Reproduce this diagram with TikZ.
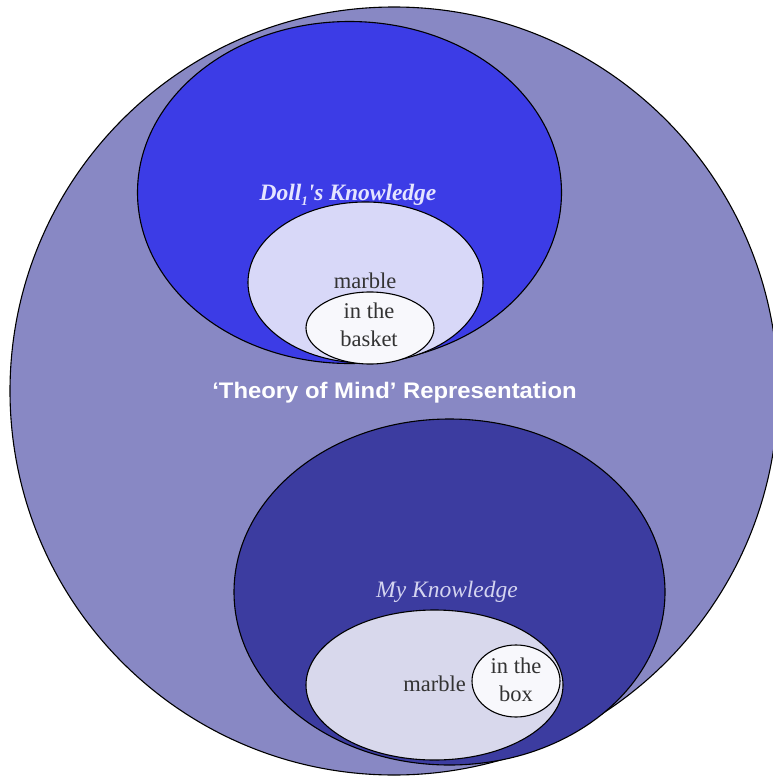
\documentclass[tikz,border=0pt]{standalone}
\usepackage{fontspec}
\setmainfont{Liberation Serif}
\newfontfamily\arialfont{Liberation Sans}
\definecolor{outerc}{HTML}{8888C4}
\definecolor{dollc}{HTML}{3C3CE6}
\definecolor{myc}{HTML}{3C3CA0}
\definecolor{lighttop}{HTML}{D8D8F8}
\definecolor{lightbot}{HTML}{D8D8EC}
\definecolor{whitish}{HTML}{F8F8FC}
\definecolor{dolltext}{HTML}{E4E4FF}
\definecolor{mytext}{HTML}{D4D4F0}
\tikzset{
  blob/.style={draw=black, line width=1.1pt},
  lbl/.style={inner sep=0pt, anchor=base, font=\fontsize{22.5}{27}\selectfont, text=black!80, align=center},
  title/.style={inner sep=0pt, anchor=base, font=\fontsize{23.5}{28}\selectfont\itshape}
}
\begin{document}
\begin{tikzpicture}[x=1pt, y=-1pt]
\useasboundingbox (0,0) rectangle (773,776);
% outer circle
\fill[outerc, blob] (394,391) ellipse [x radius=384, y radius=384];
% Doll's knowledge
\fill[dollc, blob] (349.5,192.5) ellipse [x radius=212, y radius=171];
\fill[lighttop, blob] (365.5,282.5) ellipse [x radius=117.5, y radius=80.5];
\fill[whitish, blob] (370,328) ellipse [x radius=64, y radius=36];
% My knowledge
\fill[myc, blob] (449.5,592) ellipse [x radius=215.5, y radius=173];
\fill[lightbot, blob] (434.5,685) ellipse [x radius=128.5, y radius=75];
\fill[whitish, blob] (516,681) ellipse [x radius=44, y radius=36];
% texts
\node[title, text=dolltext, font=\fontsize{23.5}{28}\selectfont\bfseries\itshape] (doll) at (348,200) {Doll\raisebox{-0.22em}{\fontsize{13}{13}\selectfont 1}\textquotesingle s Knowledge};
\node[lbl] (m1) at (365,288.3) {marble};
\node[lbl] (b1) at (369,318) {in the};
\node[lbl] (b2) at (369,346) {basket};
\node[inner sep=0pt, anchor=base, text=white, font=\arialfont\bfseries\fontsize{22.5}{27}\selectfont] (tom) at (394.5,398.5) {\scalebox{1.06}[1]{‘Theory of Mind’ Representation}};
\node[title, text=mytext] (my) at (447,597) {My Knowledge};
\node[lbl, anchor=base east] (m2) at (466,691) {marble};
\node[lbl] (x1) at (516,673) {in the};
\node[lbl] (x2) at (516,701.5) {box};
\end{tikzpicture}
\end{document}
